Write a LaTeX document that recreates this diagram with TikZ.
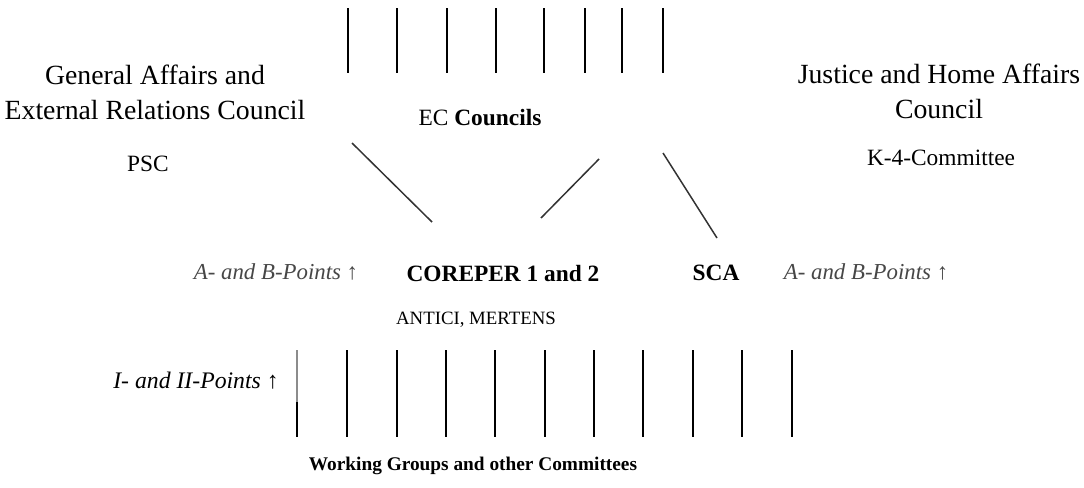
\documentclass[tikz,border=0pt]{standalone}
\usepackage{fontspec}
\setmainfont{Liberation Serif}
\usepackage{xcolor}
\tikzset{
    bigtxt/.style={font=\fontsize{15.8}{20}\selectfont, align=center, inner sep=0pt},
    midtxt/.style={font=\fontsize{13.3}{16}\selectfont, inner sep=0pt},
    smalltxt/.style={font=\fontsize{11}{13}\selectfont, inner sep=0pt},
    pointstxt/.style={font=\fontsize{13}{16}\selectfont\itshape, inner sep=0pt},
    bar/.style={black, line width=0.85pt}
}
\begin{document}
\begin{tikzpicture}[x=0.02cm, y=-0.02cm]
    \useasboundingbox (0,0) rectangle (1084,487);
    \foreach \x in {348, 397, 447, 496, 544, 585, 622, 663} {
        \draw[bar] (\x, 8) -- (\x, 73);
    }
    \node[bigtxt] (gaerc) at (155,92) {General Affairs and\\External Relations Council};
    \node[midtxt] (psc) at (148,164) {PSC};
    \node[midtxt] (ec) at (480,118) {EC \textbf{Councils}};
    \node[bigtxt] (jha) at (939,91) {Justice and Home Affairs\\Council};
    \node[midtxt] (k4) at (941,158) {K-4-Committee};
    \node[pointstxt, text=black!72] (abl) at (276,272) {A- and B-Points ↑};
    \node[midtxt] (corep) at (503,273) {\textbf{COREPER 1 and 2}};
    \node[midtxt] (sca) at (716,273) {\textbf{SCA}};
    \node[pointstxt, text=black!72] (abr) at (866,272) {A- and B-Points ↑};
    \node[smalltxt, font=\fontsize{10.7}{13}\selectfont] (antici) at (476,320) {ANTICI, MERTENS};
    \node[pointstxt, font=\fontsize{13.5}{16}\selectfont\itshape] (iii) at (196,381) {I- and II-Points \textbf{↑}};
    \node[smalltxt] (wg) at (473,466) {\textbf{Working Groups and other Committees}};
    \coordinate (gaerc-e) at (352,143);
    \coordinate (corep-w) at (432,222);
    \coordinate (ec-w) at (599,159);
    \coordinate (corep-e) at (541,218);
    \coordinate (ec-e) at (663,153);
    \coordinate (sca-n) at (717,238);
    \draw[bar, black!80] (gaerc-e) -- (corep-w);
    \draw[bar, black!80] (ec-w) -- (corep-e);
    \draw[bar, black!80] (ec-e) -- (sca-n);
    \draw[black!45, line width=0.85pt] (297,350) -- (297,402);
    \draw[bar] (297,402) -- (297,437);
    \foreach \x in {347, 397, 446, 495, 545, 594, 643, 693, 742, 792} {
        \draw[bar] (\x, 350) -- (\x, 437);
    }
\end{tikzpicture}
\end{document}
